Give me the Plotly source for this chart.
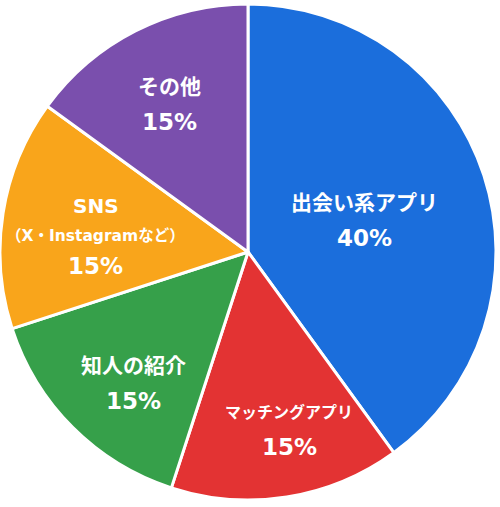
import math
import plotly.graph_objects as go

# ---- data ----
categories = ["出会い系アプリ", "マッチングアプリ", "知人の紹介", "SNS", "その他"]
values = [40, 15, 15, 15, 15]
sub_labels = ["", "", "", "（X・Instagramなど）", ""]

# ---- styles ----
colors = ["#1b6edc", "#e33333", "#36a04a", "#f9a51b", "#7a4fad"]
W, H = 500, 507
FONT = "DejaVu Sans, Noto Sans CJK JP"
name_sizes = [21, 16, 21, 20, 21]
sub_size = 15.5
pct_size = 23
DOM_X = [0.0, 0.992]
DOM_Y = [0.006, 1.0]
# label placement: radius fraction and small angular nudge (deg) from slice mid-angle
label_r = [0.485, 0.735, 0.705, 0.618, 0.675]
label_nudge = [3, -4, -4, -3, -1]

fig = go.Figure(go.Pie(
    labels=categories,
    values=values,
    sort=False,
    direction="clockwise",
    rotation=0,
    domain=dict(x=DOM_X, y=DOM_Y),
    marker=dict(colors=colors, line=dict(color="white", width=3)),
    textinfo="none",
    hoverinfo="label+percent",
    showlegend=False,
))

cx = (DOM_X[0] + DOM_X[1]) / 2 * W
cy = (1 - (DOM_Y[0] + DOM_Y[1]) / 2) * H
R = min((DOM_X[1] - DOM_X[0]) * W, (DOM_Y[1] - DOM_Y[0]) * H) / 2
total = sum(values)
annotations = []
start = 0.0
for i, v in enumerate(values):
    ang = (start + v / total * 180.0) + label_nudge[i]
    start += v / total * 360.0
    rr = label_r[i] * R
    px = cx + rr * math.sin(math.radians(ang))
    py = cy - rr * math.cos(math.radians(ang))
    pct = f"{round(v / total * 100)}%"
    lines = [(categories[i], name_sizes[i])]
    if sub_labels[i]:
        lines.append((sub_labels[i], sub_size))
    lines.append((pct, pct_size))
    gap = 30 if len(lines) == 3 else 35
    n = len(lines)
    for k, (txt, sz) in enumerate(lines):
        ly = py + (k - (n - 1) / 2) * gap
        annotations.append(dict(
            x=px / W, y=1 - ly / H, xref="paper", yref="paper",
            xanchor="center", yanchor="middle", showarrow=False,
            text=f"<b>{txt}</b>",
            font=dict(family=FONT, size=sz, color="white"),
        ))

fig.update_layout(
    width=W, height=H,
    margin=dict(l=0, r=0, t=0, b=0),
    paper_bgcolor="white",
    plot_bgcolor="white",
    annotations=annotations,
)

fig.write_html(
    "out.html",
    config={"displayModeBar": False},
    post_script="document.body.style.margin='0';document.body.style.overflow='hidden';",
)
